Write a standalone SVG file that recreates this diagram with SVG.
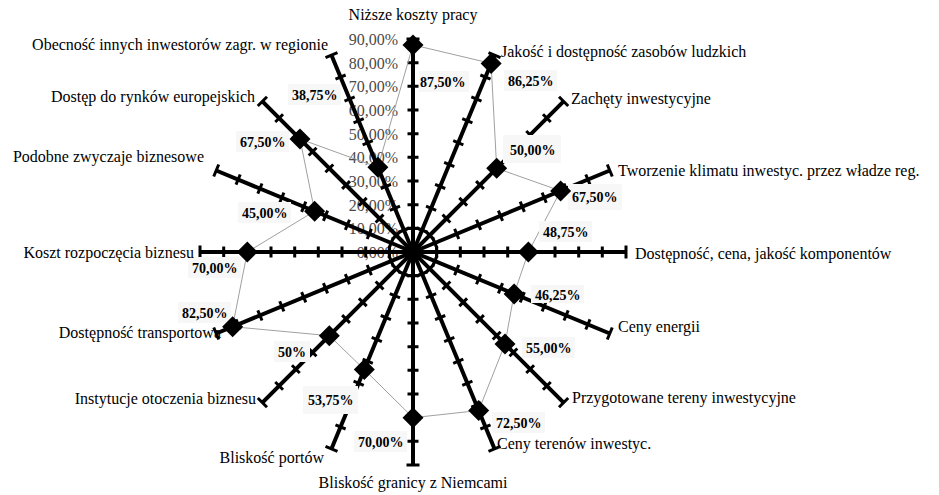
<svg xmlns="http://www.w3.org/2000/svg" xmlns:xlink="http://www.w3.org/1999/xlink" width="939" height="495" viewBox="0 0 939 495">
<style>
.cat{font-family:"Liberation Serif","Times New Roman",serif;font-size:16px;fill:#000}
.val{font-family:"Liberation Serif","Times New Roman",serif;font-size:14px;font-weight:bold;fill:#000}
.scl{font-family:"Liberation Serif","Times New Roman",serif;font-size:16px;fill:#4a4a4a;text-anchor:end}
.box{fill:#f7f7f7}
.ax{stroke:#000;fill:none}
.poly{fill:none;stroke:#a0a0a0;stroke-width:1}
</style>
<defs>
<g id="axis">
<path class="ax" stroke-width="4" d="M413,252V39"/>
<path class="ax" stroke-width="3" d="M407.5,228.3H418.5M407.5,204.7H418.5M407.5,181H418.5M407.5,157.3H418.5M407.5,133.7H418.5M407.5,110H418.5M407.5,86.3H418.5M407.5,62.7H418.5M406.5,39H419.5"/>
</g>
<path id="dm" d="M0,-10.5L10.5,0L0,10.5L-10.5,0Z" fill="#000"/>
</defs>
<rect width="939" height="495" fill="#fff"/>
<g id="scale">
<text class="scl" x="398" y="45">90,00%</text>
<text class="scl" x="398" y="68.7">80,00%</text>
<text class="scl" x="398" y="92.3">70,00%</text>
<text class="scl" x="398" y="116">60,00%</text>
<text class="scl" x="398" y="139.7">50,00%</text>
<text class="scl" x="398" y="163.3">40,00%</text>
<text class="scl" x="398" y="187">30,00%</text>
<text class="scl" x="398" y="210.7">20,00%</text>
<text class="scl" x="398" y="234.3">10,00%</text>
<text class="scl" x="398" y="258">0,00%</text>
</g>
<g id="axes">
<use href="#axis"/>
<use href="#axis" transform="rotate(22.5 413 252)"/>
<use href="#axis" transform="rotate(45 413 252)"/>
<use href="#axis" transform="rotate(67.5 413 252)"/>
<use href="#axis" transform="rotate(90 413 252)"/>
<use href="#axis" transform="rotate(112.5 413 252)"/>
<use href="#axis" transform="rotate(135 413 252)"/>
<use href="#axis" transform="rotate(157.5 413 252)"/>
<use href="#axis" transform="rotate(180 413 252)"/>
<use href="#axis" transform="rotate(202.5 413 252)"/>
<use href="#axis" transform="rotate(225 413 252)"/>
<use href="#axis" transform="rotate(247.5 413 252)"/>
<use href="#axis" transform="rotate(270 413 252)"/>
<use href="#axis" transform="rotate(292.5 413 252)"/>
<use href="#axis" transform="rotate(315 413 252)"/>
<use href="#axis" transform="rotate(337.5 413 252)"/>
<circle cx="413" cy="252" r="23.7" fill="none" stroke="#000" stroke-width="2.5"/>
<circle cx="413" cy="252" r="7" fill="#000"/>
</g>
<g id="connectors">
<polygon class="poly" points="413,44.9 491.1,63.4 496.7,168.3 560.6,190.9 528.4,252 514.1,293.9 505,344 478.7,410.5 413,417.7 364.3,369.5 329.3,335.7 232.6,326.7 247.3,252 314.6,211.2 300,139 377.9,167.3"/>
</g>
<g id="n00"><rect class="box" x="419" y="71" width="50" height="21"/><text class="val" x="420" y="87">87,50%</text><use href="#dm" x="413" y="44.9"/><text class="cat" x="413" y="20" text-anchor="middle">Niższe koszty pracy</text></g>
<g id="n01"><rect class="box" x="504" y="70" width="53" height="21"/><text class="val" x="508" y="86">86,25%</text><use href="#dm" x="491.1" y="63.4"/><text class="cat" x="501" y="57">Jakość i dostępność zasobów ludzkich</text></g>
<g id="n02"><rect class="box" x="503" y="135" width="58" height="28"/><text class="val" x="510" y="155">50,00%</text><use href="#dm" x="496.7" y="168.3"/><text class="cat" x="571" y="104">Zachęty inwestycyjne</text></g>
<g id="n03"><rect class="box" x="568" y="184" width="54" height="26"/><text class="val" x="572" y="202">67,50%</text><use href="#dm" x="560.6" y="190.9"/><text class="cat" x="618" y="176">Tworzenie klimatu inwestyc. przez władze reg.</text></g>
<g id="n04"><rect class="box" x="539" y="221" width="53" height="21"/><text class="val" x="543" y="237">48,75%</text><use href="#dm" x="528.4" y="252"/><text class="cat" x="635" y="259">Dostępność, cena, jakość komponentów</text></g>
<g id="n05"><rect class="box" x="531" y="285" width="53" height="18"/><text class="val" x="535" y="300">46,25%</text><use href="#dm" x="514.1" y="293.9"/><text class="cat" x="618" y="332">Ceny energii</text></g>
<g id="n06"><rect class="box" x="522" y="337" width="53" height="21"/><text class="val" x="526" y="353">55,00%</text><use href="#dm" x="505" y="344"/><text class="cat" x="572" y="403">Przygotowane tereny inwestycyjne</text></g>
<g id="n07"><rect class="box" x="492" y="412" width="53" height="21"/><text class="val" x="496" y="428">72,50%</text><use href="#dm" x="478.7" y="410.5"/><text class="cat" x="497" y="449">Ceny terenów inwestyc.</text></g>
<g id="n08"><rect class="box" x="354" y="431" width="53" height="21"/><text class="val" x="358" y="447">70,00%</text><use href="#dm" x="413" y="417.7"/><text class="cat" x="413" y="488" text-anchor="middle">Bliskość granicy z Niemcami</text></g>
<g id="n09"><rect class="box" x="303" y="386" width="55" height="28"/><text class="val" x="308" y="405">53,75%</text><use href="#dm" x="364.3" y="369.5"/><text class="cat" x="324" y="463" text-anchor="end">Bliskość portów</text></g>
<g id="n10"><rect class="box" x="274" y="341" width="36" height="21"/><text class="val" x="278" y="357">50%</text><use href="#dm" x="329.3" y="335.7"/><text class="cat" x="256" y="404" text-anchor="end">Instytucje otoczenia biznesu</text></g>
<g id="n11"><rect class="box" x="178" y="302" width="53" height="21"/><text class="val" x="182" y="318">82,50%</text><use href="#dm" x="232.6" y="326.7"/><text class="cat" x="221" y="338" text-anchor="end">Dostępność transportowa</text></g>
<g id="n12"><rect class="box" x="188" y="257" width="53" height="21"/><text class="val" x="192" y="273">70,00%</text><use href="#dm" x="247.3" y="252"/><text class="cat" x="194" y="258" text-anchor="end">Koszt rozpoczęcia biznesu</text></g>
<g id="n13"><rect class="box" x="238" y="202" width="53" height="21"/><text class="val" x="242" y="218">45,00%</text><use href="#dm" x="314.6" y="211.2"/><text class="cat" x="204" y="162" text-anchor="end">Podobne zwyczaje biznesowe</text></g>
<g id="n14"><rect class="box" x="236" y="131" width="53" height="21"/><text class="val" x="240" y="147">67,50%</text><use href="#dm" x="300" y="139"/><text class="cat" x="255" y="102" text-anchor="end">Dostęp do rynków europejskich</text></g>
<g id="n15"><rect class="box" x="288" y="84" width="53" height="21"/><text class="val" x="292" y="100">38,75%</text><use href="#dm" x="377.9" y="167.3"/><text class="cat" x="328" y="50" text-anchor="end">Obecność innych inwestorów zagr. w regionie</text></g>
</svg>
